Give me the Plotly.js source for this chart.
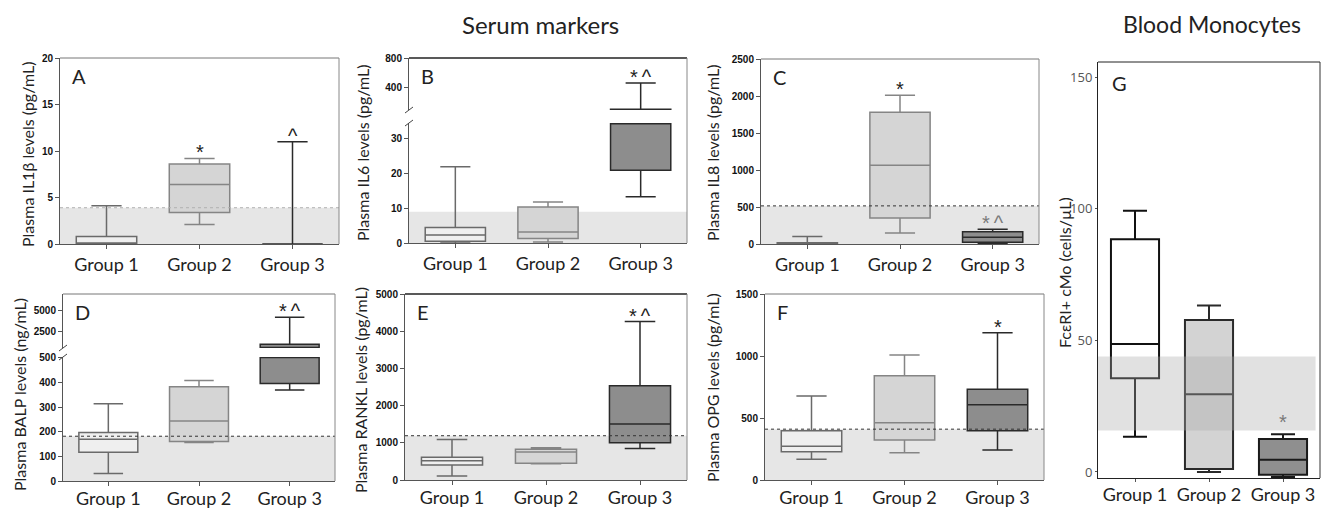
<!DOCTYPE html>
<html><head><meta charset="utf-8">
<script src="https://cdn.plot.ly/plotly-3.0.1.min.js"></script>
<style>html,body{margin:0;padding:0;background:#fff}#chart{width:1322px;height:508px}</style>
</head><body><div id="chart"></div>
<script>
const groups = ["Group 1", "Group 2", "Group 3"];

// A: Plasma IL1β (pg/mL)
const il1bMin = [0, 2.1, 0];
const il1bQ1  = [0, 3.4, 0];
const il1bMed = [0, 6.4, 0];
const il1bQ3  = [0.8, 8.6, 0];
const il1bMax = [4.1, 9.2, 11];
const il1bSig = ["", "*", "^"];
const il1bRef = [0, 3.9];

// B: Plasma IL6 (pg/mL)
const il6Min = [0, 0.3, 13.3];
const il6Q1  = [0.5, 1.3, 21];
const il6Med = [2.3, 3.2, 34.4];
const il6Q3  = [4.5, 10.4, 95];
const il6Max = [22, 11.8, 455];
const il6Sig = ["", "", "*\u2009^"];
const il6Ref = [0, 9.0];

// C: Plasma IL8 (pg/mL)
const il8Min = [0, 150, 5];
const il8Q1  = [0, 350, 25];
const il8Med = [8, 1065, 90];
const il8Q3  = [18, 1780, 165];
const il8Max = [100, 2010, 200];
const il8Sig = ["", "*", "*\u2009^"];
const il8Ref = [0, 515];

// D: Plasma BALP (ng/mL)
const balpMin = [30, 156, 370];
const balpQ1  = [117, 161, 396];
const balpMed = [170, 244, 502];
const balpQ3  = [197, 383, 900];
const balpMax = [314, 408, 4200];
const balpSig = ["", "", "*\u2009^"];
const balpRef = [0, 182];

// E: Plasma RANKL (pg/mL)
const ranklMin = [110, 440, 845];
const ranklQ1  = [403, 448, 1003];
const ranklMed = [519, 752, 1505];
const ranklQ3  = [610, 825, 2535];
const ranklMax = [1092, 868, 4260];
const ranklSig = ["", "", "*\u2009^"];
const ranklRef = [0, 1190];

// F: Plasma OPG (pg/mL)
const opgMin = [167, 220, 242];
const opgQ1  = [228, 323, 398];
const opgMed = [272, 462, 607];
const opgQ3  = [397, 841, 731];
const opgMax = [677, 1008, 1188];
const opgSig = ["", "", "*"];
const opgRef = [0, 410];

// G: FcεRI+ cMo (cells/µL)
const fcMin = [13.4, 0, -1.9];
const fcQ1  = [35.6, 1.1, -1.1];
const fcMed = [48.6, 29.5, 4.6];
const fcQ3  = [88.4, 57.7, 12.5];
const fcMax = [99.2, 63.2, 14.3];
const fcSig = ["", "", "*"];
const fcRef = [15.7, 43.8];

// ---------- layout helpers ----------
const W = 1322, H = 508;
const dx = (l, r) => [l / W, r / W];
const dy = (t, b) => [1 - b / H, 1 - t / H];
const PX = v => v / W, PY = v => 1 - v / H;

const TXT = 'Lato, "Open Sans", sans-serif';
const SIG = '"Liberation Sans", Arial, sans-serif';
const styleAF = [
  {fill: '#efefef', line: '#6a6a6a'},
  {fill: '#d5d5d5', line: '#858585'},
  {fill: '#8d8d8d', line: '#2a2a2a'}];
const styleG = [
  {fill: '#ffffff', line: '#111111'},
  {fill: '#d3d3d3', line: '#2a2a2a'},
  {fill: '#8f8f8f', line: '#1a1a1a'}];

// panel geometry (pixels) and axis setup
const panels = [
  {id: 'A', x: 'x', l: 60, r: 339, t: 58, b: 244,
   segs: [{y: 'y', t: 58, b: 244, range: [0, 20], tickvals: [0, 5, 10, 15, 20]}],
   d: [il1bMin, il1bQ1, il1bMed, il1bQ3, il1bMax], sig: il1bSig, ref: il1bRef, dot: '#b0b0b0',
   title: 'Plasma IL1β levels (pg/mL)', tx: 27, ty: 155, st: styleAF, lw: 1.5},
  {id: 'B', x: 'x2', l: 409, r: 687, t: 58, b: 243,
   segs: [{y: 'y2', t: 123, b: 243, range: [0, 34.6], tickvals: [0, 10, 20, 30]},
          {y: 'y3', t: 58, b: 110, range: [83, 800], tickvals: [400, 800]}],
   d: [il6Min, il6Q1, il6Med, il6Q3, il6Max], sig: il6Sig, ref: il6Ref, dot: null,
   title: 'Plasma IL6 levels (pg/mL)', tx: 362, ty: 153, st: styleAF, lw: 1.5, topDark: true},
  {id: 'C', x: 'x3', l: 761, r: 1039, t: 59, b: 244,
   segs: [{y: 'y4', t: 59, b: 244, range: [0, 2500], tickvals: [0, 500, 1000, 1500, 2000, 2500]}],
   d: [il8Min, il8Q1, il8Med, il8Q3, il8Max], sig: il8Sig, ref: il8Ref, dot: '#333',
   title: 'Plasma IL8 levels (pg/mL)', tx: 712, ty: 153, st: styleAF, lw: 1.5, sigGrey: true},
  {id: 'D', x: 'x4', l: 63, r: 335, t: 294, b: 481,
   segs: [{y: 'y5', t: 357, b: 481, range: [0, 504], tickvals: [0, 100, 200, 300, 400, 500]},
          {y: 'y6', t: 294, b: 348, range: [450, 7056], tickvals: [2500, 5000]}],
   d: [balpMin, balpQ1, balpMed, balpQ3, balpMax], sig: balpSig, ref: balpRef, dot: '#333',
   title: 'Plasma BALP levels (ng/mL)', tx: 19, ty: 395, st: styleAF, lw: 1.5},
  {id: 'E', x: 'x5', l: 405, r: 687, t: 294, b: 480,
   segs: [{y: 'y7', t: 294, b: 480, range: [0, 5000], tickvals: [0, 1000, 2000, 3000, 4000, 5000]}],
   d: [ranklMin, ranklQ1, ranklMed, ranklQ3, ranklMax], sig: ranklSig, ref: ranklRef, dot: '#333',
   title: 'Plasma RANKL levels (pg/mL)', tx: 360, ty: 390, st: styleAF, lw: 1.5, topDark: true},
  {id: 'F', x: 'x6', l: 765, r: 1044, t: 294, b: 480,
   segs: [{y: 'y8', t: 294, b: 480, range: [0, 1500], tickvals: [0, 500, 1000, 1500]}],
   d: [opgMin, opgQ1, opgMed, opgQ3, opgMax], sig: opgSig, ref: opgRef, dot: '#333',
   title: 'Plasma OPG levels (pg/mL)', tx: 712, ty: 388, st: styleAF, lw: 1.5},
  {id: 'G', x: 'x7', l: 1098, r: 1320, t: 62, b: 478,
   segs: [{y: 'y9', t: 62, b: 478, range: [-2.3, 155.7], tickvals: [0, 50, 100, 150]}],
   d: [fcMin, fcQ1, fcMed, fcQ3, fcMax], sig: fcSig, ref: fcRef, dot: null,
   title: 'FcεRI+ cMo (cells/µL)', tx: 1064, ty: 273, st: styleG, lw: 2, sigGrey: true, isG: true}
];

const traces = [], shapes = [], annotations = [];
const layout = {
  width: W, height: H, margin: {l: 0, r: 0, t: 0, b: 0},
  paper_bgcolor: '#ffffff', plot_bgcolor: 'rgba(0,0,0,0)',
  showlegend: false, boxmode: 'overlay', font: {family: TXT, color: '#222'}
};

panels.forEach(p => {
  const xn = p.x === 'x' ? 'xaxis' : 'xaxis' + p.x.slice(1);
  const bottomRow = p.b > 400;
  layout[xn] = {
    domain: dx(p.l, p.r), anchor: p.segs[0].y, type: 'category',
    categoryorder: 'array', categoryarray: groups, range: [-0.5, 2.5],
    showline: true, linecolor: p.isG ? '#222' : '#555', linewidth: 1,
    ticks: 'outside', ticklen: p.isG ? 3 : 4, tickcolor: '#555',
    ticklabelstandoff: bottomRow ? -3 : 0,
    tickfont: {family: TXT, size: 18, color: '#222'},
    showgrid: false, zeroline: false, fixedrange: true
  };
  p.segs.forEach((s, si) => {
    const yn = s.y === 'y' ? 'yaxis' : 'yaxis' + s.y.slice(1);
    layout[yn] = {
      domain: dy(s.t, s.b), anchor: p.x, range: s.range, tickvals: s.tickvals,
      showline: true, linecolor: p.isG ? '#222' : '#555', linewidth: 1,
      ticks: 'outside', ticklen: p.isG ? 2 : 4, tickcolor: '#555',
      tickfont: p.isG ? {family: '"Open Sans", sans-serif', size: 13, color: '#555'}
                      : {family: '"Liberation Sans", Arial, sans-serif', size: 10, color: '#111', weight: 'bold'},
      showgrid: false, zeroline: false, fixedrange: true
    };
    // reference band (normal range)
    if (p.ref[1] > s.range[0]) {
      shapes.push({type: 'rect', xref: p.x + ' domain', yref: s.y, x0: 0, x1: p.isG ? 0.98 : 1,
        y0: Math.max(p.ref[0], s.range[0]), y1: Math.min(p.ref[1], s.range[1]),
        fillcolor: p.isG ? 'rgba(170,170,170,0.35)' : '#e6e6e6', line: {width: 0},
        layer: p.isG ? 'above' : 'below'});
      if (p.dot && p.ref[1] <= s.range[1]) {
        shapes.push({type: 'line', xref: p.x + ' domain', yref: s.y, x0: 0, x1: 1,
          y0: p.ref[1], y1: p.ref[1], line: {color: p.dot, width: 1, dash: 'dot'}, layer: 'above'});
      }
    }
    groups.forEach((g, i) => {
      // only draw the part of a box that falls into this axis segment
      if (p.d[4][i] <= s.range[0] || p.d[0][i] >= s.range[1]) return;
      traces.push({
        type: 'box', x: [g], xaxis: p.x, yaxis: s.y,
        lowerfence: [p.d[0][i]], q1: [p.d[1][i]], median: [p.d[2][i]],
        q3: [p.d[3][i]], upperfence: [p.d[4][i]],
        fillcolor: p.st[i].fill, line: {color: p.st[i].line, width: p.lw},
        width: 0.65, whiskerwidth: 0.5, boxpoints: false, hoverinfo: 'skip', showlegend: false
      });
    });
  });
  // significance markers above the upper whisker
  groups.forEach((g, i) => {
    if (!p.sig[i]) return;
    const v = p.d[4][i];
    const seg = p.segs.find(s => v >= s.range[0] && v <= s.range[1]) || p.segs[0];
    annotations.push({x: g, y: v, xref: p.x, yref: seg.y, text: p.sig[i], showarrow: false,
      yanchor: 'middle', yshift: p.isG ? 12 : 6,
      font: {family: SIG, size: 20, color: (p.sigGrey && i === 2) ? '#7a7a7a' : '#222'}});
  });
  // frame top and right
  shapes.push({type: 'line', xref: 'paper', yref: 'paper', x0: PX(p.l), x1: PX(p.r), y0: PY(p.t), y1: PY(p.t),
    line: {color: (p.isG || p.topDark) ? '#222' : '#777', width: p.topDark ? 1.5 : 1}});
  shapes.push({type: 'line', xref: 'paper', yref: 'paper', x0: PX(p.r), x1: PX(p.r), y0: PY(p.t), y1: PY(p.b),
    line: {color: p.isG ? '#333' : '#888', width: 1}});
  // axis break marks
  if (p.segs.length > 1) {
    const lo = p.segs[0], up = p.segs[1];
    [up.b, lo.t].forEach(yy => {
      shapes.push({type: 'line', xref: 'paper', yref: 'paper', x0: PX(p.l - 4), x1: PX(p.l + 4),
        y0: PY(yy + 3), y1: PY(yy - 3), line: {color: '#444', width: 1}});
    });
  }
  // panel letter
  annotations.push({xref: 'paper', yref: 'paper', x: PX(p.l + (p.isG ? 12 : 10)), y: PY(p.t + (p.isG ? 21 : 18)),
    xanchor: 'left', yanchor: 'middle', text: p.id, showarrow: false, font: {family: TXT, size: 20, color: '#222'}});
  // y-axis title
  annotations.push({xref: 'paper', yref: 'paper', x: PX(p.tx), y: PY(p.ty), xanchor: 'center', yanchor: 'middle',
    text: p.title, textangle: -90, showarrow: false, font: {family: TXT, size: 16, color: '#222'}});
});

annotations.push({xref: 'paper', yref: 'paper', x: PX(540), y: PY(24), text: 'Serum markers', showarrow: false,
  xanchor: 'center', yanchor: 'middle', font: {family: TXT, size: 24, color: '#222'}});
annotations.push({xref: 'paper', yref: 'paper', x: PX(1212), y: PY(24), text: 'Blood Monocytes', showarrow: false,
  xanchor: 'center', yanchor: 'middle', font: {family: TXT, size: 23, color: '#222'}});

layout.shapes = shapes;
layout.annotations = annotations;
Plotly.newPlot('chart', traces, layout, {staticPlot: true, displayModeBar: false});
</script>
</body></html>
